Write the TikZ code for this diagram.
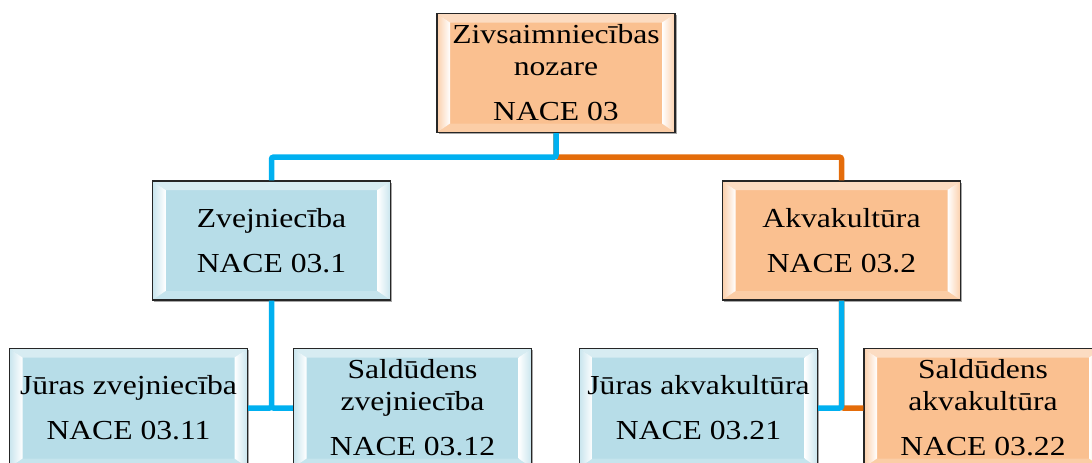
\documentclass[tikz,border=0pt]{standalone}
\usepackage{fontspec}
\setmainfont{Liberation Serif}[FakeStretch=1.15]
\usepackage{xcolor}
\usepackage{tikz}
\usetikzlibrary{calc,shadows,positioning}
\definecolor{naceblue}{RGB}{183,221,232}
\definecolor{naceorange}{RGB}{250,192,144}
\definecolor{lineblue}{RGB}{0,176,240}
\definecolor{lineorange}{RGB}{228,108,10}
\newcommand{\nacebevel}[1]{%
	\path (path picture bounding box.north west) coordinate (bnw)
	(path picture bounding box.north east) coordinate (bne)
	(path picture bounding box.south west) coordinate (bsw)
	(path picture bounding box.south east) coordinate (bse);
	\fill[#1!55!white] (bnw) -- (bne) -- ($(bne)+(-13,-9)$) -- ($(bnw)+(13,-9)$) -- cycle;
	\fill[#1!80!white] (bsw) -- (bse) -- ($(bse)+(-13,9)$) -- ($(bsw)+(13,9)$) -- cycle;
	\shade[left color=#1!75!white, right color=white] (bnw) -- ($(bnw)+(13,-9)$) -- ($(bsw)+(13,9)$) -- (bsw) -- cycle;
	\shade[left color=white, right color=#1!75!white] (bne) -- ($(bne)+(-13,-9)$) -- ($(bse)+(-13,9)$) -- (bse) -- cycle;
}
\tikzset{NACE box/.style={draw=black!85,line width=1.3pt,fill=#1,minimum width=238pt,minimum height=119pt,inner sep=0pt,align=center,font=\fontsize{27.5}{32}\selectfont,path picture={\nacebevel{#1}},drop shadow={shadow xshift=1.5pt,shadow yshift=-1.5pt,opacity=.35,fill=black}}}

\begin{document}
\begin{tikzpicture}[x=1pt,y=1pt,node distance=167.5pt]
	\tikzstyle{blueline}=[draw=lineblue,line width=5.5pt,rounded corners=2pt]
	\tikzstyle{orangeline}=[draw=lineorange,line width=5.5pt,rounded corners=2pt]
	\useasboundingbox (0,0) rectangle (1092,-463);
	
	\node[NACE box=naceorange] (nozare) at (556,-73) {Zivsaimniecības\\nozare\\[13pt]NACE 03};
	\node[NACE box=naceblue] [below of=nozare, xshift=-284.5] (zvej) {Zvejniecība\\[13pt]NACE 03.1};
	\node[NACE box=naceorange] [below of=nozare, xshift=285.5] (akva) {Akvakultūra\\[13pt]NACE 03.2};
	
	\node[NACE box=naceblue] [below of=zvej, xshift=-143] (jurzv) {Jūras zvejniecība\\[13pt]NACE 03.11};
	\node[NACE box=naceblue] [below of=zvej, xshift=141] (saldzv) {Saldūdens\\zvejniecība\\[13pt]NACE 03.12};
	\node[NACE box=naceblue] [below of=akva, xshift=-143] (jurak) {Jūras akvakultūra\\[13pt]NACE 03.21};
	\node[NACE box=naceorange] [below of=akva, xshift=141.5] (saldak) {Saldūdens\\akvakultūra\\[13pt]NACE 03.22};
	
	\path[orangeline] (nozare.south) -- ++(0,-24) -| (akva.north);
	\path[blueline] (nozare.south) -- ++(0,-24) -| (zvej.north);
	
	\path[blueline]
	(zvej.south) |- (jurzv.east)
	(zvej.south) |- (saldzv.west)
	;
	
	\path[orangeline] (akva.south) |- (saldak.west);
	\path[blueline] (akva.south) |- (jurak.east);
\end{tikzpicture}
\end{document}
